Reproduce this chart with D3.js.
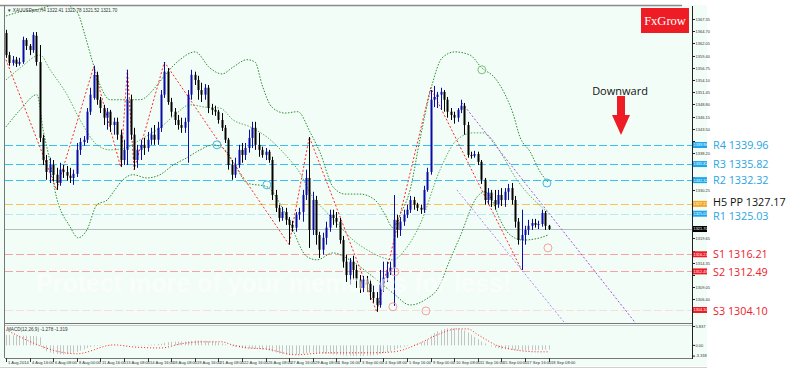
<!DOCTYPE html>
<html>
<head>
<meta charset="utf-8">
<script src="https://cdn.jsdelivr.net/npm/d3@7"></script>
<style>
body { margin: 0; background: #fff; }
svg { display: block; }
</style>
</head>
<body>
<div id="chart"></div>
<script>
// candles, [open, high, low, close]
var candles = [
  [1364.3,1365.0,1358.9,1359.5],[1359.5,1360.2,1357.2,1357.8],[1357.8,1359.3,1357.2,1358.5],[1358.5,1359.1,1356.9,1357.6],[1357.6,1358.9,1357.2,1358.0],[1358.0,1363.5,1357.6,1362.8],
  [1362.8,1363.2,1360.6,1361.5],[1361.5,1361.9,1359.5,1360.6],[1360.6,1364.5,1360.0,1363.9],[1363.7,1364.5,1357.2,1358.0],[1358.0,1361.7,1340.6,1341.5],[1341.5,1342.2,1335.6,1336.7],
  [1336.7,1337.8,1332.4,1334.1],[1334.1,1337.2,1331.7,1335.6],[1335.6,1336.7,1332.0,1333.5],[1333.5,1335.0,1330.2,1331.7],[1331.7,1336.1,1331.1,1334.6],[1334.6,1335.6,1332.8,1334.1],
  [1334.1,1335.4,1332.2,1333.3],[1333.3,1335.0,1331.7,1332.8],[1332.8,1334.6,1331.3,1333.7],[1333.7,1340.4,1333.0,1338.9],[1338.9,1341.5,1337.8,1340.6],[1340.6,1341.9,1339.8,1341.1],
  [1341.1,1348.0,1340.4,1347.2],[1347.2,1352.4,1346.5,1350.9],[1350.2,1357.2,1349.8,1355.2],[1355.2,1355.9,1348.7,1349.8],[1349.8,1350.4,1346.9,1348.0],[1348.0,1348.7,1344.3,1345.9],
  [1345.9,1348.0,1343.3,1347.2],[1347.2,1347.6,1342.8,1344.3],[1344.3,1345.9,1342.2,1345.0],[1345.0,1345.9,1341.1,1342.2],[1342.2,1343.3,1335.2,1336.7],[1336.7,1341.1,1335.6,1338.9],
  [1338.9,1356.3,1335.6,1349.8],[1349.8,1350.9,1341.1,1342.2],[1342.2,1343.7,1334.6,1336.7],[1336.7,1340.0,1335.0,1338.9],[1338.9,1341.1,1336.7,1340.0],[1340.0,1341.5,1337.8,1339.3],
  [1339.3,1342.8,1338.5,1341.1],[1341.1,1343.7,1340.0,1342.2],[1342.2,1344.3,1340.0,1341.1],[1341.1,1345.0,1340.0,1343.7],[1343.7,1351.9,1342.8,1350.9],[1350.9,1358.0,1350.2,1355.9],
  [1355.9,1356.7,1348.7,1349.3],[1349.3,1350.2,1346.1,1347.2],[1347.2,1348.0,1344.3,1345.4],[1345.4,1346.5,1343.3,1344.3],[1344.3,1345.9,1342.6,1343.7],[1343.7,1345.9,1342.6,1345.0],
  [1345.0,1351.9,1336.1,1350.9],[1350.9,1356.3,1349.8,1355.2],[1355.2,1355.9,1353.0,1354.1],[1354.1,1355.0,1349.8,1351.9],[1351.9,1353.5,1349.3,1350.9],[1350.9,1353.2,1349.8,1352.4],
  [1352.4,1353.0,1346.9,1348.0],[1348.0,1348.9,1346.5,1347.6],[1347.6,1348.5,1346.3,1347.2],[1347.2,1347.6,1344.6,1345.4],[1345.4,1346.9,1343.0,1343.7],[1343.7,1344.3,1340.4,1341.1],
  [1341.1,1341.5,1334.6,1335.6],[1335.6,1336.7,1332.4,1333.5],[1333.5,1337.2,1332.8,1335.6],[1335.6,1340.0,1335.0,1338.9],[1338.9,1340.4,1336.1,1337.8],[1337.8,1340.4,1336.7,1339.3],
  [1339.3,1343.3,1338.3,1341.5],[1341.5,1345.0,1339.3,1343.7],[1343.7,1345.0,1338.9,1340.0],[1340.0,1342.6,1337.4,1338.9],[1338.9,1339.6,1337.2,1337.8],[1337.8,1339.3,1336.7,1338.5],
  [1338.5,1338.9,1336.1,1336.7],[1336.7,1337.4,1328.0,1329.1],[1329.1,1330.2,1325.4,1326.3],[1326.3,1327.0,1323.3,1324.1],[1324.1,1326.5,1323.5,1325.4],[1325.4,1326.3,1322.6,1323.7],
  [1323.7,1324.3,1318.3,1322.6],[1322.6,1323.5,1321.1,1322.0],[1322.0,1325.4,1321.1,1324.8],[1324.8,1326.3,1323.7,1325.4],[1325.4,1330.2,1323.3,1329.1],[1329.1,1334.6,1328.0,1332.8],
  [1332.8,1341.7,1317.6,1321.5],[1321.5,1329.8,1320.4,1328.0],[1328.0,1328.9,1318.3,1320.4],[1320.4,1321.1,1315.4,1317.2],[1317.2,1320.9,1316.1,1319.8],[1319.8,1323.3,1318.3,1322.0],
  [1322.0,1325.9,1321.1,1324.8],[1324.8,1325.9,1322.6,1324.1],[1324.1,1325.4,1322.0,1323.3],[1323.3,1324.1,1318.5,1319.3],[1319.3,1320.2,1313.3,1314.6],[1314.6,1316.1,1310.2,1311.7],
  [1311.7,1315.4,1309.6,1314.6],[1314.6,1315.9,1310.7,1312.8],[1312.8,1313.9,1308.9,1310.7],[1310.7,1311.7,1307.8,1308.9],[1308.9,1311.5,1308.0,1310.7],[1310.7,1311.5,1308.0,1309.8],
  [1309.8,1310.7,1306.3,1308.0],[1308.0,1309.4,1305.7,1306.7],[1306.7,1308.0,1303.7,1305.2],[1305.2,1312.8,1304.6,1309.6],[1309.6,1314.6,1308.0,1311.1],[1311.1,1314.6,1310.2,1312.4],
  [1312.4,1314.6,1311.7,1313.3],[1313.3,1329.1,1305.0,1323.7],[1323.7,1324.8,1319.8,1321.5],[1321.5,1324.3,1320.2,1323.3],[1323.3,1325.9,1322.4,1324.8],[1324.8,1327.0,1324.1,1325.9],
  [1325.9,1328.9,1325.2,1328.0],[1328.0,1328.7,1325.9,1327.0],[1327.0,1327.4,1325.6,1326.3],[1326.3,1327.0,1325.0,1325.9],[1325.9,1331.1,1325.2,1330.2],[1330.2,1335.0,1329.8,1334.1],
  [1334.1,1351.9,1333.5,1349.8],[1349.8,1352.8,1348.2,1350.4],[1350.4,1351.5,1348.0,1350.9],[1350.9,1352.4,1347.6,1351.5],[1351.5,1351.9,1347.2,1349.8],[1349.8,1350.4,1345.9,1347.2],
  [1347.2,1348.0,1345.4,1346.5],[1346.5,1347.2,1344.6,1345.9],[1345.9,1348.0,1345.0,1347.6],[1347.6,1349.8,1346.9,1348.5],[1348.5,1349.1,1342.2,1344.3],[1344.3,1345.0,1337.2,1337.8],
  [1337.8,1338.5,1337.0,1337.6],[1337.6,1338.7,1337.2,1338.0],[1338.0,1338.5,1335.6,1336.3],[1336.3,1336.7,1331.5,1332.4],[1332.4,1332.8,1327.0,1328.0],[1328.0,1330.6,1327.0,1329.6],
  [1329.6,1330.2,1326.5,1328.0],[1328.0,1330.2,1325.9,1327.0],[1327.0,1330.2,1326.3,1329.1],[1329.1,1330.6,1326.7,1328.0],[1328.0,1330.6,1326.5,1329.8],[1329.8,1331.5,1328.0,1330.6],
  [1330.6,1331.7,1327.0,1328.0],[1328.0,1328.9,1322.0,1323.3],[1323.3,1324.1,1318.3,1319.3],[1319.3,1325.9,1312.8,1320.4],[1320.4,1322.4,1318.3,1321.5],[1321.5,1323.7,1320.4,1322.4],
  [1322.4,1323.9,1321.5,1323.0],[1323.0,1323.9,1322.0,1322.6],[1322.6,1323.5,1321.7,1322.8],[1322.8,1325.9,1322.2,1325.2],[1325.2,1325.6,1321.5,1322.4],[1322.4,1322.6,1321.5,1321.7]
];

// bollinger-like bands, [bar index, price]
var bandUpper = [[0,1368.0],[4.2,1368.9],[8.6,1369.3],[13.1,1370.2],[16.6,1370.6],[19.6,1369.8],[21.4,1368.5],[23.4,1363.9],[25.5,1358.5],[27.9,1353.0],[30.9,1349.8],[35.3,1349.8],[39.8,1349.8],[44.2,1352.4],[47.2,1355.2],[51.6,1358.5],[56.1,1360.2],[60.5,1356.7],[64.1,1355.4],[67.4,1356.9],[71.5,1358.5],[73.9,1358.0],[76,1353.0],[78.9,1348.2],[82.8,1346.9],[86.6,1347.2],[90.2,1342.8],[93.2,1338.3],[97,1330.9],[100.6,1329.3],[105,1329.3],[109.5,1328.0],[112.5,1324.8],[114.8,1322.0],[116.9,1324.8],[119.9,1330.2],[122.8,1341.1],[126.4,1353.0],[129.4,1358.9],[133.2,1360.2],[137.7,1359.5],[141.2,1356.7],[145.1,1354.5],[148.1,1350.9],[150.4,1346.9],[152.5,1341.7],[155.5,1338.5],[158.5,1334.1],[160.8,1331.9]];
var bandMiddle = [[0,1354.1],[4.2,1356.7],[10.1,1359.5],[13.1,1356.3],[18.1,1350.9],[22,1345.4],[27,1340.0],[30.9,1338.9],[35.3,1339.3],[39.8,1341.1],[45.7,1343.7],[50.1,1346.5],[54.6,1348.7],[59,1348.2],[63.5,1348.0],[67.4,1345.4],[72.4,1343.9],[77.4,1341.7],[83.4,1337.4],[87.2,1333.9],[90.2,1329.6],[95.3,1325.2],[100,1321.5],[103,1319.3],[107.1,1317.2],[111,1315.7],[114.8,1315.0],[118.4,1317.2],[122.8,1322.6],[128.8,1334.6],[133.8,1341.1],[138.6,1342.6],[141.5,1342.6],[143.6,1341.7],[147.5,1337.4],[151.6,1332.4],[154.6,1329.6],[157.6,1327.4],[160.8,1325.2]];
var bandLower = [[0,1343.9],[4.2,1347.6],[9.2,1350.9],[11,1343.3],[13.1,1336.1],[14.5,1330.2],[19,1322.2],[21.4,1319.8],[24,1321.5],[27,1327.0],[30,1328.0],[32.3,1330.2],[34.7,1332.4],[37.7,1333.5],[41.8,1332.8],[45.7,1333.5],[49.6,1335.6],[53.7,1337.2],[57.6,1338.9],[61.4,1340.0],[65,1338.9],[68,1335.6],[71.5,1331.7],[77.4,1330.9],[83.4,1324.3],[89.3,1315.7],[92.3,1315.0],[97,1316.5],[102,1315.0],[108.9,1311.3],[114.8,1307.8],[119.9,1305.2],[124.3,1306.3],[128.8,1309.6],[130.9,1313.5],[134.7,1320.0],[139.8,1328.7],[142.1,1329.8],[144.2,1328.0],[146.6,1323.7],[149.6,1320.4],[153.4,1319.3],[158.5,1319.8],[160.8,1320.4]];

// zigzag swing points [bar index, price]
var zigzag = [[0,1358.5],[15,1330.2],[26,1356.9],[34,1335.2],[36,1356.3],[38,1334.6],[47,1358.0],[84,1318.3],[90,1341.7],[110,1303.7],[126,1352.4],[153,1312.8]];

// falling channel (two purple lines) [bar index, price]
var channelTop = [[135.3,1349.1],[187.2,1300.9]];
var channelBottom = [[133.8,1330.2],[166.2,1300.9]];

// small circle marks [bar index, price, kind]
var marks = [[62.6,1340.0,"c"],[77.4,1331.3,"c"],[160.5,1331.7,"c"],[160.8,1317.6,"p"],[115.4,1312.4,"p"],[114.8,1304.8,"p"],[124.6,1303.9,"p"],[141.2,1356.3,"g"]];

// pivot levels
var levelNames = ["R4", "R3", "R2", "H5 PP", "R1", "S1", "S2", "S3"];
var levelValues = [1339.96, 1335.82, 1332.32, 1327.17, 1325.03, 1316.21, 1312.49, 1304.10];
var lastPrice = 1321.70;

// right axis tick labels
var priceTicks = [1367.35,1364.70,1362.05,1359.40,1356.75,1354.10,1351.45,1348.80,1346.15,1343.50,1340.85,1338.20,1335.55,1332.90,1330.25,1327.60,1324.95,1322.30,1319.65,1317.00,1314.35,1311.70,1309.05,1306.40,1303.75];

// time labels, one every 7 bars
var timeLabels = ["1 Aug 2014","4 Aug 16:00","6 Aug 08:00","8 Aug 00:00","11 Aug 16:00","13 Aug 08:00","14 Aug 16:00","18 Aug 08:00","19 Aug 16:00","21 Aug 08:00","22 Aug 16:00","26 Aug 08:00","27 Aug 16:00","29 Aug 08:00","1 Sep 16:00","3 Sep 00:00","4 Sep 08:00","5 Sep 16:00","9 Sep 00:00","10 Sep 08:00","11 Sep 16:00","15 Sep 00:00","17 Sep 16:00","18 Sep 08:00"];

// MACD histogram, one value per bar
var macdHist = [
  3.2,3.2,3.1,3.0,3.0,3.0,3.0,2.9,2.9,2.8,2.5,
  -1.0,-1.8,-2.2,-2.5,-2.7,-2.8,-2.8,-2.7,-2.5,-2.3,
  -2.0,-1.6,-1.2,-0.8,-0.5,-0.3,-0.2,-0.1,0,0.1,0.1,0.1,0,0,-0.1,-0.1,0,0.1,0.1,0.1,0.1,0.2,0.2,0.3,0.4,
  0.5,0.8,1.0,1.1,1.2,1.2,1.2,1.2,1.3,1.4,1.5,1.5,1.5,1.4,1.3,1.2,1.0,0.8,0.6,0.3,0.0,-0.3,
  -0.5,-0.7,-0.9,-1.0,-1.0,-1.0,-1.1,-1.2,-1.3,-1.4,
  -1.6,-1.9,-2.2,-2.5,-2.7,-2.9,-3.0,
  -3.0,-2.9,-2.8,-2.6,-2.4,-2.3,-2.3,-2.3,-2.4,-2.5,
  -2.6,-2.7,-2.8,-2.9,-3.0,-3.1,-3.2,-3.2,-3.3,-3.3,
  -3.3,-3.3,-3.2,-3.2,-3.1,-3.0,
  -2.7,-2.4,-2.1,-1.8,-1.5,-1.0,
  -0.7,-0.4,-0.2,0.0,0.3,
  0.6,0.9,1.2,1.8,3.0,3.8,4.4,4.8,5.1,5.3,5.4,5.4,5.3,5.0,4.6,4.0,3.3,2.6,1.9,1.2,0.6,
  0.0,-0.4,-0.7,-0.9,-1.1,-1.2,-1.3,-1.4,-1.5,-1.5,-1.6,-1.6,-1.6,-1.5,-1.5,-1.4,-1.4,-1.3,-1.3
];
// MACD signal line [bar index, value]
var macdSignal = [[0,4.8],[21,-2.6],[32,0.15],[38,-0.5],[46,-0.8],[52,0.5],[58,1.1],[64,1.1],[67,0.2],[72,-0.8],[77,-1.1],[86,-2.9],[95,-2.3],[108,-2.3],[115,-2.0],[123,0.8],[128,3.3],[134,5.1],[137,5.1],[140,3.3],[147,-0.5],[158,-2.0],[161,-2.0]];
var macdTicks = [5.837, 0, -3.318];
var macdTickText = ["5.837", "0.00", "-3.318"];

//////////////////////////////////////////////////////////
var width = 800, height = 377;
var plot = {left: 5, right: 692, top: 6, bottom: 323};

var svg = d3.select("#chart").append("svg")
  .attr("width", width)
  .attr("height", height);

var xScale = d3.scaleLinear().domain([0, 161]).range([6, 548.6]);
var yScale = d3.scaleLinear().domain([1304.10, 1339.96]).range([310, 145]);
var mScale = d3.scaleLinear().domain([-3.6, 6.0]).range([357, 326]);

var tiny = "'Liberation Sans', Arial, sans-serif";
var label = "'Open Sans', 'Liberation Sans', sans-serif";

// background of the terminal window
svg.append("rect").attr("x", 0).attr("y", 5).attr("width", 707).attr("height", 361).attr("fill", "#f2fdf7");
svg.append("line").attr("x1", 0).attr("x2", 707).attr("y1", 367.5).attr("y2", 367.5).attr("stroke", "#d0d0d0");

svg.append("clipPath").attr("id", "mainClip")
  .append("rect").attr("x", plot.left).attr("y", plot.top)
  .attr("width", plot.right - plot.left).attr("height", plot.bottom - plot.top);
svg.append("clipPath").attr("id", "macdClip")
  .append("rect").attr("x", plot.left).attr("y", 325)
  .attr("width", plot.right - plot.left).attr("height", 33);

var main = svg.append("g").attr("clip-path", "url(#mainClip)");

// pivot level lines
var levelStroke = ["#36c2f2", "#36c2f2", "#36c2f2", "#f7c25c", "#b5e9fb", "#f7a3a3", "#f7a3a3", "#fbdcdc"];
main.selectAll(".level")
  .data(levelValues)
  .enter().append("line")
  .attr("x1", plot.left).attr("x2", plot.right)
  .attr("y1", function(d) { return Math.round(yScale(d)) + 0.5; })
  .attr("y2", function(d) { return Math.round(yScale(d)) + 0.5; })
  .attr("stroke", function(d, i) { return levelStroke[i]; })
  .attr("stroke-dasharray", "8,3");
main.append("line")
  .attr("x1", plot.left).attr("x2", plot.right)
  .attr("y1", Math.round(yScale(lastPrice)) + 0.5).attr("y2", Math.round(yScale(lastPrice)) + 0.5)
  .attr("stroke", "#b3c0c4");

// bands
var bandLine = d3.line()
  .x(function(d) { return xScale(d[0]); })
  .y(function(d) { return yScale(d[1]); })
  .curve(d3.curveMonotoneX);
[[bandUpper, "#2f8c2f"], [bandMiddle, "#5aae5a"], [bandLower, "#2f8c2f"]].forEach(function(b) {
  main.append("path").attr("d", bandLine(b[0]))
    .attr("fill", "none").attr("stroke", b[1]).attr("stroke-width", 1)
    .attr("stroke-dasharray", "1.5,1.5");
});

// zigzag
var straight = d3.line()
  .x(function(d) { return xScale(d[0]); })
  .y(function(d) { return yScale(d[1]); });
main.append("path").attr("d", straight(zigzag))
  .attr("fill", "none").attr("stroke", "#ff2a2a").attr("stroke-width", 1)
  .attr("stroke-dasharray", "2,2");

// channel
[channelTop, channelBottom].forEach(function(c, i) {
  main.append("path").attr("d", straight(c))
    .attr("fill", "none").attr("stroke", i == 0 ? "#a550e6" : "#b884ec")
    .attr("stroke-width", 1).attr("stroke-dasharray", "2,2");
});

// candles
var bars = main.append("g");
candles.forEach(function(d, i) {
  var cx = Math.round(xScale(i));
  var up = d[3] >= d[0];
  var col = up ? "#0b0ba6" : "#000000";
  bars.append("line")
    .attr("x1", cx + 0.5).attr("x2", cx + 0.5)
    .attr("y1", yScale(d[1])).attr("y2", yScale(d[2]))
    .attr("stroke", col);
  var top = Math.min(yScale(d[0]), yScale(d[3]));
  var h = Math.max(1, Math.abs(yScale(d[0]) - yScale(d[3])));
  bars.append("rect")
    .attr("x", cx - 0.5).attr("y", top)
    .attr("width", 2).attr("height", h)
    .attr("fill", col);
});

// marks
var markColor = {c: "#41b8ee", p: "#f4a0a0", g: "#7cbf7c"};
main.selectAll(".mark")
  .data(marks)
  .enter().append("circle")
  .attr("cx", function(d) { return xScale(d[0]); })
  .attr("cy", function(d) { return yScale(d[1]); })
  .attr("r", 4)
  .attr("fill", "none")
  .attr("stroke", function(d) { return markColor[d[2]]; });

// photo host watermark
main.append("text")
  .attr("x", 36).attr("y", 292)
  .attr("font-family", tiny).attr("font-weight", "bold").attr("font-size", 25)
  .attr("fill", "#ffffff").attr("fill-opacity", 0.6)
  .text("Protect more of your memories for less!");

// frame
svg.append("line").attr("x1", 0).attr("x2", 682).attr("y1", 5.5).attr("y2", 5.5).attr("stroke", "#8a8a8a").attr("stroke-width", 1.5);
svg.append("line").attr("x1", 4.5).attr("x2", 4.5).attr("y1", 6).attr("y2", 358).attr("stroke", "#777");
svg.append("line").attr("x1", 5).attr("x2", plot.right).attr("y1", 323.5).attr("y2", 323.5).attr("stroke", "#777");
svg.append("line").attr("x1", 5).attr("x2", plot.right).attr("y1", 325.5).attr("y2", 325.5).attr("stroke", "#c8c8c8");
svg.append("line").attr("x1", 5).attr("x2", plot.right).attr("y1", 358.5).attr("y2", 358.5).attr("stroke", "#777");
svg.append("line").attr("x1", plot.right + 0.5).attr("x2", plot.right + 0.5).attr("y1", 6).attr("y2", 359).attr("stroke", "#222");

// title
svg.append("text").attr("x", 7).attr("y", 12)
  .attr("font-family", tiny).attr("font-size", 4.6).attr("fill", "#333")
  .text("\u25BC XAUUSDpro,H4  1322.41 1322.78 1321.52 1321.70");

// right price axis (tick text hidden where a level tag sits)
var ax = svg.append("g");
priceTicks.forEach(function(v) {
  var yy = Math.round(yScale(v)) + 0.5;
  ax.append("line").attr("x1", plot.right).attr("x2", plot.right + 3).attr("y1", yy).attr("y2", yy).attr("stroke", "#222");
  var busy = levelValues.concat([lastPrice]).some(function(l) { return Math.abs(yScale(l) - yy) < 6; });
  if (busy) return;
  ax.append("text").attr("x", plot.right + 3.5).attr("y", yy).attr("dy", "0.35em")
    .attr("font-family", tiny).attr("font-size", 4).attr("fill", "#333")
    .text(v.toFixed(2));
});

// level tags on the axis and big labels at the right
var tagFill = ["#1ea6ec", "#1ea6ec", "#1ea6ec", "#f5a623", "#1ea6ec", "#ee1c25", "#ee1c25", "#ee1c25"];
var textFill = ["#2aa5e2", "#2aa5e2", "#2aa5e2", "#111111", "#2aa5e2", "#ec2229", "#ec2229", "#ec2229"];
var labelShift = [0, 0, 0, -1.5, 2.5, 0, 1, 1];
levelValues.forEach(function(v, i) {
  var yy = yScale(v);
  ax.append("rect").attr("x", plot.right + 1).attr("y", yy - 3).attr("width", 14).attr("height", 6).attr("fill", tagFill[i]);
  ax.append("text").attr("x", plot.right + 1.5).attr("y", yy).attr("dy", "0.35em")
    .attr("font-family", tiny).attr("font-size", 3.9).attr("fill", "#fff")
    .text(v.toFixed(2));
  svg.append("text").attr("x", 713).attr("y", yy + labelShift[i]).attr("dy", "0.36em")
    .attr("font-family", label).attr("font-size", 10.8).attr("fill", textFill[i])
    .text(levelNames[i] + " " + v.toFixed(2));
});
ax.append("rect").attr("x", plot.right + 1).attr("y", yScale(lastPrice) - 3).attr("width", 14).attr("height", 6).attr("fill", "#000");
ax.append("text").attr("x", plot.right + 1.5).attr("y", yScale(lastPrice)).attr("dy", "0.35em")
  .attr("font-family", tiny).attr("font-size", 3.9).attr("fill", "#fff").text(lastPrice.toFixed(2));

// MACD panel
var macd = svg.append("g").attr("clip-path", "url(#macdClip)");
macd.selectAll(".hist")
  .data(macdHist)
  .enter().append("line")
  .attr("x1", function(d, i) { return Math.round(xScale(i)) + 0.5; })
  .attr("x2", function(d, i) { return Math.round(xScale(i)) + 0.5; })
  .attr("y1", mScale(0))
  .attr("y2", function(d) { return mScale(d); })
  .attr("stroke", "#c4c4c4");
macd.append("path")
  .attr("d", d3.line()
    .x(function(d) { return xScale(d[0]); })
    .y(function(d) { return mScale(d[1]); })
    .curve(d3.curveMonotoneX)(macdSignal))
  .attr("fill", "none").attr("stroke", "#ff2020").attr("stroke-width", 1)
  .attr("stroke-dasharray", "1,2");
svg.append("text").attr("x", 7).attr("y", 331)
  .attr("font-family", tiny).attr("font-size", 4.6).attr("fill", "#333")
  .text("MACD(12,26,9) -1.278 -1.319");
macdTicks.forEach(function(v, i) {
  var yy = mScale(v);
  svg.append("line").attr("x1", plot.right).attr("x2", plot.right + 3).attr("y1", yy).attr("y2", yy).attr("stroke", "#222");
  svg.append("text").attr("x", plot.right + 3.5).attr("y", yy).attr("dy", "0.35em")
    .attr("font-family", tiny).attr("font-size", 4).attr("fill", "#333")
    .text(macdTickText[i]);
});

// time axis
timeLabels.forEach(function(t, k) {
  var xx = Math.round(xScale(k * 7)) + 0.5;
  svg.append("line").attr("x1", xx).attr("x2", xx).attr("y1", 358).attr("y2", 362).attr("stroke", "#333");
  svg.append("text").attr("x", xx + 1.5).attr("y", 364)
    .attr("font-family", tiny).attr("font-size", 4.1).attr("fill", "#333")
    .text(t);
});

// logo
svg.append("rect").attr("x", 641).attr("y", 8).attr("width", 48).attr("height", 25).attr("fill", "#ee1c25");
svg.append("text").attr("x", 665).attr("y", 25).attr("text-anchor", "middle")
  .attr("font-family", "'Liberation Serif', 'Times New Roman', serif").attr("font-size", 12.5)
  .attr("fill", "#fff").text("FxGrow");

// trend note with arrow
svg.append("text").attr("x", 620).attr("y", 95).attr("text-anchor", "middle")
  .attr("font-family", label).attr("font-size", 11).attr("fill", "#111")
  .text("Downward");
svg.append("rect").attr("x", 617).attr("y", 96).attr("width", 8).attr("height", 19).attr("fill", "#ee1c25");
svg.append("path").attr("d", "M612,115L630,115L621,135Z").attr("fill", "#ee1c25");
</script>
</body>
</html>
